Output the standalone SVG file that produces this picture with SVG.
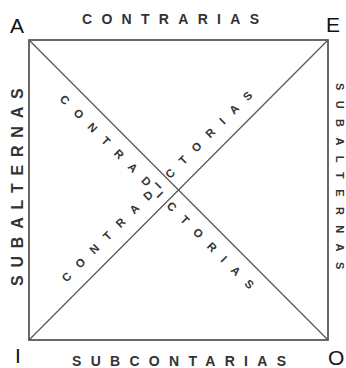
<svg xmlns="http://www.w3.org/2000/svg" width="346" height="368" viewBox="0 0 346 368">
<style>
.corner{font-family:"Liberation Sans",Arial,sans-serif;font-size:21px;fill:#111}
.lbl{font-family:"Liberation Sans",Arial,sans-serif;font-weight:bold;fill:#333}
.edge{font-size:14px;letter-spacing:9.3px}
.diag{font-size:11.5px;letter-spacing:11px}
.sq{fill:none;stroke:#444;stroke-width:1.6}
.dg{stroke:#555;stroke-width:1.2;fill:none}
</style>
<defs>
<path id="pUp" d="M 61.9,96.9 L 154.2,189.2 L 300,43.4"/>
<path id="pLo" d="M 63.6,279.8 L 154.2,189.2 L 310,345"/>
</defs>
<g id="connectors">
<rect class="sq" x="29" y="40" width="299" height="300"/>
<line class="dg" x1="29" y1="40" x2="328" y2="340"/>
<line class="dg" x1="29" y1="340" x2="328" y2="40"/>
</g>
<g id="node-A"><text class="corner" x="10" y="33">A</text></g>
<g id="node-E"><text class="corner" x="326" y="32">E</text></g>
<g id="node-I"><text class="corner" x="15" y="363">I</text></g>
<g id="node-O"><text class="corner" x="328" y="365">O</text></g>
<g id="label-contrarias"><text class="lbl edge" x="82" y="24">CONTRARIAS</text></g>
<g id="label-subcontarias"><text class="lbl edge" x="72" y="366">SUBCONTARIAS</text></g>
<g id="label-subalternas-left"><text class="lbl" font-size="16" letter-spacing="7.8" transform="translate(23,286) rotate(-90)">SUBALTERNAS</text></g>
<g id="label-subalternas-right"><text class="lbl" font-size="11" letter-spacing="10.4" fill="#555" transform="translate(336,83) rotate(90)">SUBALTERNAS</text></g>
<g id="label-contradictorias-upper"><text class="lbl diag" dominant-baseline="central"><textPath href="#pUp">CONTRADICTORIAS</textPath></text></g>
<g id="label-contradictorias-lower"><text class="lbl diag" dominant-baseline="central"><textPath href="#pLo">CONTRADICTORIAS</textPath></text></g>
</svg>
